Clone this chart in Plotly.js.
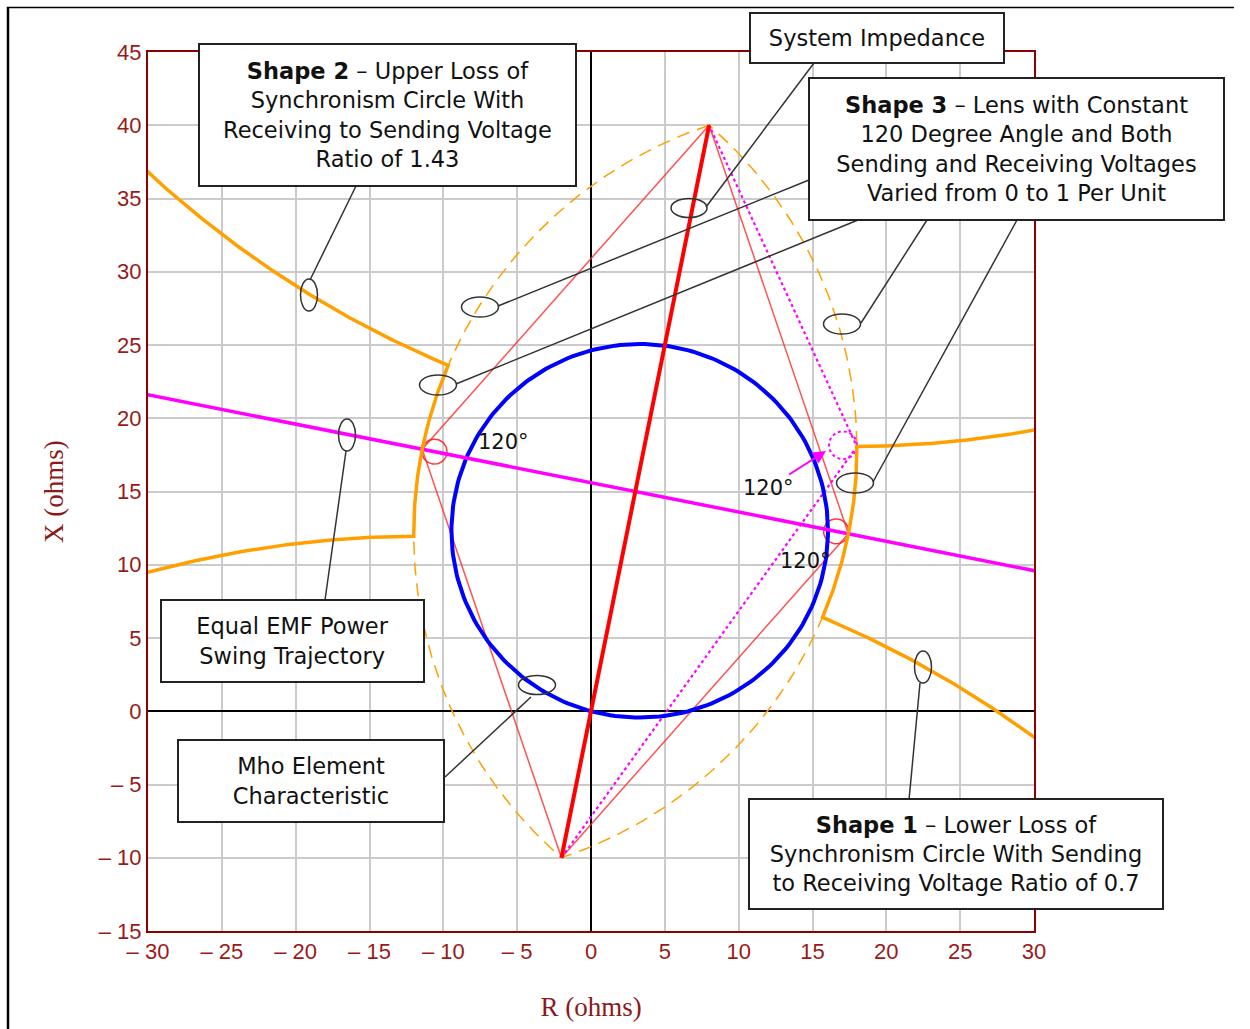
<!DOCTYPE html>
<html>
<head>
<meta charset="utf-8">
<script src="https://cdn.plot.ly/plotly-3.0.1.min.js"></script>
<style>
  html, body { margin: 0; padding: 0; background: #ffffff; }
  #chart { width: 1250px; height: 1029px; }
</style>
</head>
<body>
<div id="chart"></div>
<script>
// ---------------- data ----------------
const sendingEnd = [-2, -10];          // system impedance, sending end (R, X)
const receivingEnd = [8, 40];          // system impedance, receiving end (R, X)
const lensAngleDeg = 120;              // Shape 3 constant angle
const lowerRatio = 0.7;                // Shape 1 sending/receiving voltage ratio
const upperRatio = 1.43;               // Shape 2 receiving/sending voltage ratio
const mhoReach = 25.5;                 // mho element diameter (ohms)
const mhoAngleDeg = 75;                // mho element characteristic angle
const xTickVals = [-30, -25, -20, -15, -10, -5, 0, 5, 10, 15, 20, 25, 30];
const xTickText = ['\u2013 30', '\u2013 25', '\u2013 20', '\u2013 15', '\u2013 10', '\u2013 5', '0', '5', '10', '15', '20', '25', '30'];
const yTickVals = [-15, -10, -5, 0, 5, 10, 15, 20, 25, 30, 35, 40, 45];
const yTickText = ['\u2013 15', '\u2013 10', '\u2013 5', '0', '5', '10', '15', '20', '25', '30', '35', '40', '45'];
const angleLabels = ['120\u00b0', '120\u00b0', '120\u00b0'];
const boxTexts = [
  '<b>Shape 2</b> \u2013 Upper Loss of<br>Synchronism Circle With<br>Receiving to Sending Voltage<br>Ratio of 1.43',
  'System Impedance',
  '<b>Shape 3</b> \u2013 Lens with Constant<br>120 Degree Angle and Both<br>Sending and Receiving Voltages<br>Varied from 0 to 1 Per Unit',
  'Equal EMF Power<br>Swing Trajectory',
  'Mho Element<br>Characteristic',
  '<b>Shape 1</b> \u2013 Lower Loss of<br>Synchronism Circle With Sending<br>to Receiving Voltage Ratio of 0.7'
];

// ---------------- page layout (pixels) ----------------
const PL = 148, PR = 1034, PT = 52, PB = 931;
const pxX = p => (p - PL) / (PR - PL);
const pxY = p => (PB - p) / (PB - PT);
// boxes: [cx, cy, w, h]
const boxGeom = [
  [387.5, 115, 377, 142],
  [877, 38, 254, 50],
  [1016.5, 149, 415, 142],
  [292.5, 641, 263, 82],
  [311, 781, 266, 82],
  [956, 854, 414, 110]
];
const calloutLines = [
  [356, 186, 310, 280],
  [814, 63, 706, 207],
  [809, 180, 498, 306],
  [858, 220, 456, 384],
  [927, 220, 861, 323],
  [1017, 220, 873, 482],
  [325, 600, 346, 451],
  [445, 777, 531, 697],
  [909, 800, 920, 683]
];
const calloutEllipses = [
  [309, 295, 17, 32],
  [689, 208, 36, 19],
  [480, 307, 37, 20],
  [438, 385, 37, 20],
  [842, 324, 37, 20],
  [855, 483, 37, 20],
  [347, 435, 17, 32],
  [537, 685, 37, 19],
  [923, 667, 17, 32]
];

// ---------------- geometry helpers ----------------
const sub = (a, b) => [a[0] - b[0], a[1] - b[1]];
const add = (a, b) => [a[0] + b[0], a[1] + b[1]];
const mul = (a, k) => [a[0] * k, a[1] * k];
const len = a => Math.hypot(a[0], a[1]);
const unit = a => mul(a, 1 / len(a));
const ang = (c, p) => Math.atan2(p[1] - c[1], p[0] - c[0]);

function arc(c, r, a0, a1, n) {
  n = n || 120;
  let d = a1 - a0;
  while (d > Math.PI) d -= 2 * Math.PI;
  while (d < -Math.PI) d += 2 * Math.PI;
  const pts = [];
  for (let i = 0; i <= n; i++) {
    const a = a0 + d * i / n;
    pts.push([c[0] + r * Math.cos(a), c[1] + r * Math.sin(a)]);
  }
  return pts;
}
function circle(c, r, n) {
  n = n || 240;
  const pts = [];
  for (let i = 0; i <= n; i++) {
    const a = 2 * Math.PI * i / n;
    pts.push([c[0] + r * Math.cos(a), c[1] + r * Math.sin(a)]);
  }
  return pts;
}
function intersect(c1, r1, c2, r2) {
  const dv = sub(c2, c1), d = len(dv);
  const a = (d * d + r1 * r1 - r2 * r2) / (2 * d);
  const h = Math.sqrt(Math.max(r1 * r1 - a * a, 0));
  const base = add(c1, mul(dv, a / d));
  const perp = [-dv[1] / d, dv[0] / d];
  return [add(base, mul(perp, h)), sub(base, mul(perp, h))];
}
function apollonius(k) {
  const k2 = k * k;
  const c = mul(sub(sendingEnd, mul(receivingEnd, k2)), 1 / (1 - k2));
  const r = k * len(sub(receivingEnd, sendingEnd)) / Math.abs(1 - k2);
  return { c, r };
}
function atX(circ, x, upper) {
  const dy = Math.sqrt(circ.r * circ.r - (x - circ.c[0]) ** 2);
  return [x, circ.c[1] + (upper ? dy : -dy)];
}

const S = sendingEnd, R = receivingEnd;
const M = mul(add(S, R), 0.5);
const SR = sub(R, S);
const L = len(SR), half = L / 2;
const nrm = unit([SR[1], -SR[0]]);                 // points to the right
const th = lensAngleDeg * Math.PI / 180;
const vDist = half / Math.tan(th / 2);
const Vright = add(M, mul(nrm, vDist));
const Vleft = sub(M, mul(nrm, vDist));
const lensR = L / (2 * Math.sin(th));
const cOff = Math.sqrt(lensR * lensR - half * half);
const cRightArc = sub(M, mul(nrm, cOff));          // centre of right lens arc
const cLeftArc = add(M, mul(nrm, cOff));           // centre of left lens arc

const lensLeft = arc(cLeftArc, lensR, ang(cLeftArc, R), ang(cLeftArc, S) + 2 * Math.PI);
const lensRight = arc(cRightArc, lensR, ang(cRightArc, S), ang(cRightArc, R));
const lensPath = lensLeft.concat(lensRight);

const shape1 = apollonius(lowerRatio);
const shape2 = apollonius(upperRatio);
const pickX = (pts, wantMin) => pts.reduce((b, p) => (wantMin ? p[0] < b[0] : p[0] > b[0]) ? p : b);
const I1 = pickX(intersect(shape2.c, shape2.r, cLeftArc, lensR), true);
const I2 = pickX(intersect(shape1.c, shape1.r, cLeftArc, lensR), true);
const I3 = pickX(intersect(shape2.c, shape2.r, cRightArc, lensR), false);
const I4 = pickX(intersect(shape1.c, shape1.r, cRightArc, lensR), false);
const E2L = atX(shape2, -31, false), E1L = atX(shape1, -31, true);
const E2R = atX(shape2, 31, false), E1R = atX(shape1, 31, true);

const compLeft = [].concat(
  arc(shape2.c, shape2.r, ang(shape2.c, E2L), ang(shape2.c, I1)),
  arc(cLeftArc, lensR, ang(cLeftArc, I1), ang(cLeftArc, I2)),
  arc(shape1.c, shape1.r, ang(shape1.c, I2), ang(shape1.c, E1L))
);
const compRight = [].concat(
  arc(shape2.c, shape2.r, ang(shape2.c, E2R), ang(shape2.c, I3)),
  arc(cRightArc, lensR, ang(cRightArc, I3), ang(cRightArc, I4)),
  arc(shape1.c, shape1.r, ang(shape1.c, I4), ang(shape1.c, E1R))
);

const P = I3;                                       // lens point on shape 2
const quad = [S, Vleft, R, Vright, S];
const dotted = [S, P, R];
const mhoAng = mhoAngleDeg * Math.PI / 180;
const mhoC = [mhoReach / 2 * Math.cos(mhoAng), mhoReach / 2 * Math.sin(mhoAng)];
const mho = circle(mhoC, mhoReach / 2);
const emfDir = nrm;
const emf = [add(M, mul(emfDir, -40)), add(M, mul(emfDir, 40))];

const markR = 0.85;
const angL = circle(add(Vleft, mul(unit(sub(M, Vleft)), markR)), markR, 60);
const angR = circle(add(Vright, mul(unit(sub(M, Vright)), markR)), markR, 60);
const bis = unit(add(unit(sub(S, P)), unit(sub(R, P))));
const angP = circle(add(P, mul(bis, 0.95)), 0.95, 60);

function tr(pts, color, width, dash) {
  return {
    x: pts.map(p => p[0]), y: pts.map(p => p[1]),
    type: 'scatter', mode: 'lines',
    line: { color: color, width: width, dash: dash || 'solid' },
    hoverinfo: 'skip', showlegend: false
  };
}

const ORANGE = '#FFA000';
const traces = [
  tr(lensPath, ORANGE, 1.5, '13px,8px'),
  tr(quad, 'rgba(255,40,40,0.8)', 1.5),
  tr(angL, 'rgba(255,20,20,0.85)', 1.5),
  tr(angR, 'rgba(255,20,20,0.85)', 1.5),
  tr(dotted, '#FF00FF', 2.2, 'dot'),
  tr(angP, '#FF00FF', 2, 'dot'),
  tr(mho, '#0000FF', 4),
  tr(emf, '#FF00FF', 3.5),
  tr(compLeft, ORANGE, 3.5),
  tr(compRight, ORANGE, 3.5),
  tr([S, R], '#FF0000', 4)
];

// ---------------- annotations & shapes ----------------
const annotations = boxTexts.map((t, i) => {
  const g = boxGeom[i];
  return {
    xref: 'paper', yref: 'paper', x: pxX(g[0]), y: pxY(g[1]),
    xanchor: 'center', yanchor: 'middle', showarrow: false,
    text: t, width: g[2] - 2, height: g[3] - 2, align: 'center', valign: 'middle',
    bgcolor: '#FFFFFF', bordercolor: '#222222', borderwidth: 2, borderpad: 0,
    font: { family: 'DejaVu Sans, Liberation Sans, sans-serif', size: 22.5, color: '#111111' }
  };
});
const labelFont = { family: 'DejaVu Sans, Liberation Sans, sans-serif', size: 21, color: '#111111' };
annotations.push({ xref: 'paper', yref: 'paper', x: pxX(503), y: pxY(442), showarrow: false,
  xanchor: 'center', yanchor: 'middle', text: angleLabels[0], font: labelFont });
annotations.push({ xref: 'paper', yref: 'paper', x: pxX(805), y: pxY(561), showarrow: false,
  xanchor: 'center', yanchor: 'middle', text: angleLabels[2], font: labelFont });
annotations.push({ xref: 'paper', yref: 'paper', x: pxX(826), y: pxY(451),
  ax: -58, ay: 37, axref: 'pixel', ayref: 'pixel', showarrow: true,
  arrowcolor: '#FF00FF', arrowhead: 2, arrowsize: 1.3, arrowwidth: 2, standoff: 0,
  text: angleLabels[1], font: labelFont });

const shapes = [];
calloutLines.forEach(l => shapes.push({
  type: 'line', xref: 'paper', yref: 'paper',
  x0: pxX(l[0]), y0: pxY(l[1]), x1: pxX(l[2]), y1: pxY(l[3]),
  line: { color: '#333333', width: 1.5 }
}));
calloutEllipses.forEach(e => shapes.push({
  type: 'circle', xref: 'paper', yref: 'paper',
  x0: pxX(e[0] - e[2] / 2), x1: pxX(e[0] + e[2] / 2),
  y0: pxY(e[1] + e[3] / 2), y1: pxY(e[1] - e[3] / 2),
  line: { color: '#333333', width: 1.5 }
}));
// outer picture frame (left and top edges)
shapes.push({ type: 'line', xref: 'paper', yref: 'paper', x0: pxX(8), x1: pxX(8), y0: pxY(1032), y1: pxY(7),
  line: { color: '#000000', width: 2.5 } });
shapes.push({ type: 'line', xref: 'paper', yref: 'paper', x0: pxX(7), x1: pxX(1234), y0: pxY(7.5), y1: pxY(7.5),
  line: { color: '#000000', width: 1.5 } });

const tickFont = { family: 'Liberation Sans Narrow, Liberation Sans, sans-serif', size: 22, color: '#9A1A1A' };
const titleFont = { family: 'Liberation Serif, DejaVu Serif, serif', size: 27, color: '#8B1A1A' };
const axisCommon = {
  showgrid: true, gridcolor: '#CBCBCB', gridwidth: 2,
  zeroline: true, zerolinecolor: '#000000', zerolinewidth: 2,
  showline: true, linecolor: '#8B0000', linewidth: 2, mirror: true,
  ticks: '', tickfont: tickFont, fixedrange: true, automargin: false
};

const layout = {
  width: 1250, height: 1029,
  margin: { l: PL, r: 1250 - PR, t: PT, b: 1029 - PB, pad: 0 },
  paper_bgcolor: '#FFFFFF', plot_bgcolor: '#FFFFFF',
  showlegend: false,
  xaxis: Object.assign({}, axisCommon, {
    range: [-30, 30], tickmode: 'array', tickvals: xTickVals, ticktext: xTickText,
    title: { text: 'R (ohms)', font: titleFont, standoff: 34 }
  }),
  yaxis: Object.assign({}, axisCommon, {
    range: [-15, 45], tickmode: 'array', tickvals: yTickVals, ticktext: yTickText,
    title: { text: 'X (ohms)', font: titleFont, standoff: 27 }
  }),
  annotations: annotations,
  shapes: shapes
};

Plotly.newPlot('chart', traces, layout, { staticPlot: true, displayModeBar: false });
</script>
</body>
</html>
